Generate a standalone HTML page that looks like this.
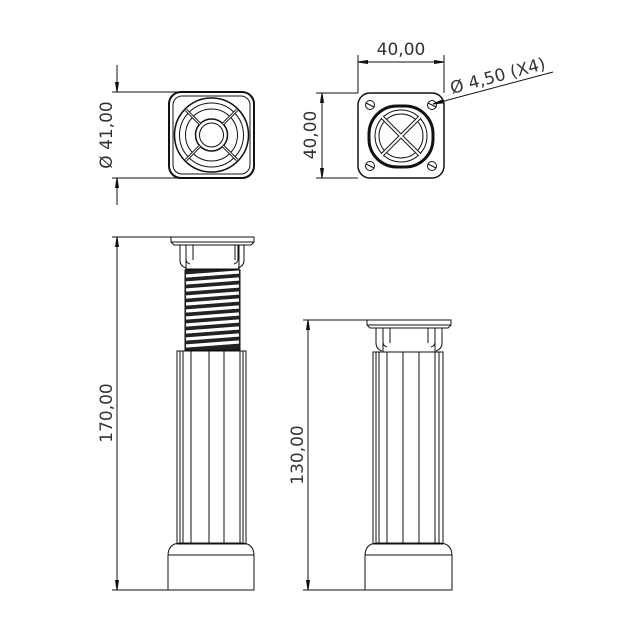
<!DOCTYPE html><html><head><style>body{margin:0;background:#fff}svg{display:block}text{font-family:"DejaVu Sans","Liberation Sans",sans-serif;font-size:17px;fill:#333;stroke:none;font-weight:normal}</style></head><body>
<svg width="622" height="629" viewBox="0 0 622 629" fill="none" stroke="#111" stroke-width="1">
<defs><marker id="a" viewBox="0 0 10 10" refX="10" refY="5" markerWidth="10" markerHeight="10" orient="auto-start-reverse" markerUnits="userSpaceOnUse"><path d="M0,3.5L10,5L0,6.5z" fill="#111"/></marker></defs>
<!-- top-left view -->
<line x1="112" y1="92" x2="205" y2="92"/><line x1="112" y1="178" x2="205" y2="178"/>
<line x1="117" y1="65" x2="117" y2="92" marker-end="url(#a)"/><line x1="117" y1="205" x2="117" y2="178" marker-end="url(#a)"/>
<text transform="translate(112,135) rotate(-90)" text-anchor="middle">Ø 41,00</text>
<rect x="169" y="92" width="85" height="86" rx="12" stroke-width="2"/>
<rect x="173" y="96" width="77" height="78" rx="9"/>
<circle cx="211.5" cy="135" r="37" stroke-width="1.5"/><circle cx="211.5" cy="135" r="32"/><circle cx="211.5" cy="135" r="26"/>
<circle cx="211.5" cy="135" r="16" stroke-width="1.5"/><circle cx="211.5" cy="135" r="12"/>
<path d="M186 110L200 124M237 110L223 124M186 160L200 146M237 160L223 146" stroke-width="3"/>
<path d="M186 110L200 124M237 110L223 124M186 160L200 146M237 160L223 146" stroke="#fff" stroke-width="1"/>
<!-- top-right view -->
<line x1="358" y1="55" x2="358" y2="93"/><line x1="444" y1="55" x2="444" y2="93"/>
<line x1="358" y1="62" x2="444" y2="62" marker-start="url(#a)" marker-end="url(#a)"/>
<text x="401" y="55" text-anchor="middle">40,00</text>
<line x1="316" y1="93" x2="358" y2="93"/><line x1="316" y1="178" x2="358" y2="178"/>
<line x1="322" y1="93" x2="322" y2="178" marker-start="url(#a)" marker-end="url(#a)"/>
<text transform="translate(316,135) rotate(-90)" text-anchor="middle">40,00</text>
<rect x="358" y="93" width="86" height="85" rx="12" stroke-width="1.5"/>
<circle cx="370" cy="105" r="4.5"/><circle cx="432" cy="105" r="4.5"/><circle cx="370" cy="166" r="4.5"/><circle cx="432" cy="166" r="4.5"/>
<path d="M366 103l8 4M428 103l8 4M366 164l8 4M428 164l8 4"/>
<rect x="369" y="106" width="64" height="61" rx="28" stroke-width="3"/>
<circle cx="401" cy="136" r="26"/><circle cx="401" cy="136" r="22"/>
<path d="M382 117L420 155M420 117L382 155" stroke-width="4"/>
<path d="M382 117L420 155M420 117L382 155" stroke="#fff" stroke-width="2"/>
<line x1="553" y1="72" x2="433" y2="104" marker-end="url(#a)"/>
<text transform="translate(452,94) rotate(-15)">Ø 4,50 (X4)</text>
<!-- left leg -->
<line x1="112" y1="237" x2="172" y2="237"/><line x1="112" y1="590" x2="168" y2="590"/>
<line x1="117" y1="237" x2="117" y2="590" marker-start="url(#a)" marker-end="url(#a)"/>
<text transform="translate(112,413) rotate(-90)" text-anchor="middle">170,00</text>
<path d="M171 237h83v5l-3 3h-77l-3-3z"/><line x1="171" y1="242" x2="254" y2="242"/>
<rect x="186" y="245" width="53" height="24"/>
<path d="M180 245v15q0 6 6 8M186 245v14q0 4 4 5M193 245v15M235 245v15M238 245v14q0 4-4 5M244 245v15q0 6-6 8" />
<rect x="185" y="270" width="55" height="80" fill="#222"/>
<path d="M186 276L239 272M186 283L239 279M186 290L239 286M186 297L239 293M186 304L239 300M186 311L239 307M186 318L239 314M186 325L239 321M186 332L239 328M186 339L239 335M186 346L239 342" stroke="#fff" stroke-width="3.2"/>
<rect x="177" y="351" width="69" height="193"/>
<path d="M180 351v193M183 351v193M191 351v193M209 351v193M224 351v193M240 351v193M243 351v193"/>
<path d="M168 590v-34q0-13 13-13h60q13 0 13 13v34z"/><line x1="168" y1="555" x2="254" y2="555"/>
<!-- right leg -->
<line x1="303" y1="320" x2="367" y2="320"/><line x1="303" y1="590" x2="365" y2="590"/>
<line x1="308" y1="320" x2="308" y2="590" marker-start="url(#a)" marker-end="url(#a)"/>
<text transform="translate(303,455) rotate(-90)" text-anchor="middle">130,00</text>
<path d="M367 320h84v5l-3 3h-78l-3-3z"/><line x1="367" y1="325" x2="451" y2="325"/>
<rect x="383" y="328" width="52" height="24"/>
<path d="M376 328v15q0 6 6 8M383 328v14q0 4 4 5M390 328v15M428 328v15M435 328v14q0 4-4 5M442 328v15q0 6-6 8"/>
<rect x="373" y="352" width="70" height="192"/>
<path d="M376 352v192M379 352v192M387 352v192M403 352v192M419 352v192M435 352v192M439 352v192"/>
<path d="M365 590v-34q0-13 13-13h61q13 0 13 13v34z"/><line x1="365" y1="555" x2="452" y2="555"/>
</svg></body></html>
